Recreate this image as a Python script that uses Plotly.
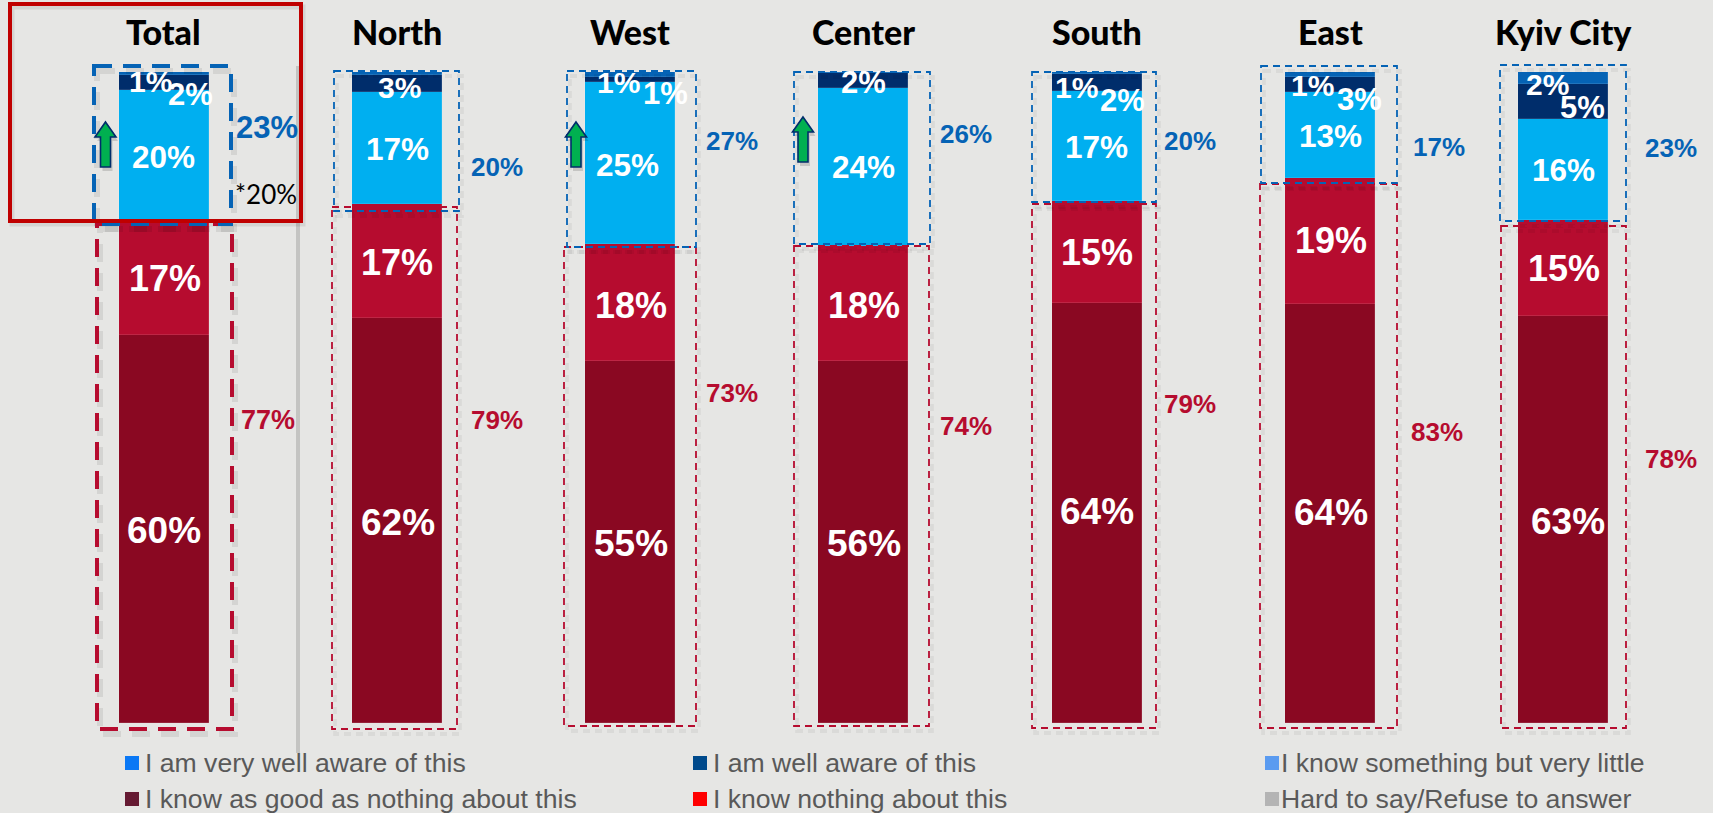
import plotly.graph_objects as go

# ---------- data ----------
regions = ["Total", "North", "West", "Center", "South", "East", "Kyiv City"]
very_well = [0.6, 0.5, 0.8, 0.2, 0.4, 0.8, 1.9]
well = [2.3, 2.6, 0.8, 2.3, 2.6, 2.4, 5.4]
something = [20.4, 17.3, 24.9, 24.3, 16.9, 13.1, 15.5]
almost_nothing = [17.2, 17.4, 18.0, 17.6, 15.7, 19.35, 14.8]
nothing = [59.5, 62.2, 55.5, 55.6, 64.4, 64.35, 62.4]

very_well_lbl = ["1%", "", "1%", "", "1%", "1%", "2%"]
well_lbl = ["2%", "3%", "1%", "2%", "2%", "3%", "5%"]
something_lbl = ["20%", "17%", "25%", "24%", "17%", "13%", "16%"]
almost_nothing_lbl = ["17%", "17%", "18%", "18%", "15%", "19%", "15%"]
nothing_lbl = ["60%", "62%", "55%", "56%", "64%", "64%", "63%"]
aware_total_lbl = ["23%", "20%", "27%", "26%", "20%", "17%", "23%"]
unaware_total_lbl = ["77%", "79%", "73%", "74%", "79%", "83%", "78%"]
previous_lbl = "*20%"
legend_items = ["I am very well aware of this", "I am well aware of this", "I know something but very little",
                "I know as good as nothing about this", "I know nothing about this", "Hard to say/Refuse to answer"]

# ---------- layout constants (pixels of the 1713x813 page) ----------
W, H = 1713, 813
BAR_C0, BAR_STEP, BAR_W = 163.5, 233.3, 90
Y0_PX, PX_PER_PCT = 722.5, 6.51
BG = "#e6e6e4"
BLUE, NAVY, SKY, RED, WINE = "#0563b5", "#002d6b", "#00aff0", "#b60c2f", "#8a0822"
FONT = "Liberation Sans"
TITLE_FONT = "Lato"

very_well_xy = [(150, 82), None, (618, 83), None, (1076, 87), (1312, 85), (1547, 84)]
well_xy = [(190, 95), (399, 87), (665, 93), (863, 83), (1122, 100), (1359, 99), (1582, 108)]
something_xy = [(163, 157), (397, 149), (627, 165), (863, 167), (1096, 147), (1330, 136), (1563, 170)]
almost_xy = [(165, 278), (397, 262), (631, 305), (864, 305), (1097, 252), (1331, 241), (1564, 268)]
nothing_xy = [(164, 530), (398, 522), (631, 543), (864, 543), (1097, 511), (1331, 512), (1568, 521)]
aware_xy = [(267, 128), (497, 167), (732, 141), (966, 134), (1190, 141), (1439, 147), (1671, 148)]
unaware_xy = [(268, 420), (497, 420), (732, 393), (966, 426), (1190, 404), (1437, 432), (1671, 459)]
blue_boxes = [(94, 66, 231, 224), (334, 71, 459, 211), (567, 71, 696, 247), (794, 72, 930, 244),
              (1032, 72, 1156, 202), (1261, 66, 1397, 183), (1500, 65, 1626, 221)]
red_boxes = [(97, 224, 232, 729), (332, 207, 457, 729), (564, 247, 696, 726), (794, 246, 929, 726),
             (1032, 204, 1156, 728), (1260, 184, 1397, 728), (1501, 226, 1626, 728)]
arrows = [(105.5, 122), (576, 122), (803, 117)]
legend_rows = [763, 799]
legend_cols = [125, 693, 1265]
legend_text_gap = [18, 18, 14]
legend_colors = ["#0a78f5", "#004a8c", "#5a9bf0", "#651a32", "#ff0000", "#b4b4b4"]

fig = go.Figure()
for vals, col, name in [(nothing, WINE, "I know nothing"), (almost_nothing, RED, "As good as nothing"),
                        (something, SKY, "Something"), (well, NAVY, "Well"), (very_well, BLUE, "Very well")]:
    fig.add_bar(x=list(range(7)), y=vals, name=name, width=BAR_W / BAR_STEP,
                marker=dict(color=col, line=dict(color="rgba(255,255,255,0.18)", width=0.6)), showlegend=False)


def pxx(x):
    return x / W


def pxy(y):
    return 1 - y / H


shapes = []
ann = []


def text(x, y, s, size, color="white", family=FONT, bold=True, anchor="center", weight=None):
    f = dict(size=size, color=color, family=family)
    if weight:
        f["weight"] = weight
    ann.append(dict(x=pxx(x), y=pxy(y), xref="paper", yref="paper",
                    text=f"<b>{s}</b>" if bold and not weight else s,
                    showarrow=False, xanchor=anchor, yanchor="middle", font=f))


def rect(x0, y0, x1, y1, **kw):
    shapes.append(dict(type="rect", xref="paper", yref="paper", x0=pxx(x0), x1=pxx(x1),
                       y0=pxy(y0), y1=pxy(y1), **kw))


# grey shadow line left by the highlighted frame
rect(296, 66, 300, 753, fillcolor="#c4c4c2", line_width=0, layer="below")
# frame shadow
rect(12, 7, 303, 224, line=dict(color="rgba(0,0,0,0.08)", width=5), fillcolor="rgba(0,0,0,0)", layer="below")

# dashed boxes with soft shadows
for i, (bb, rb) in enumerate(zip(blue_boxes, red_boxes)):
    w, dash, alpha = (4, "18px,11px", 0.08) if i == 0 else (1.8, "7px,5px", 0.05)
    for box in (rb, bb):
        x0, y0, x1, y1 = box
        rect(x0 + 3, y0 + 5, x1 + 3, y1 + 5,
             line=dict(color=f"rgba(0,0,0,{alpha})", width=w + 2, dash=dash), fillcolor="rgba(0,0,0,0)")
    for box, col in ((rb, RED), (bb, BLUE)):
        x0, y0, x1, y1 = box
        rect(x0, y0, x1, y1, line=dict(color=col, width=w, dash=dash), fillcolor="rgba(0,0,0,0)")

# red highlight frame
rect(10, 4, 301, 221, line=dict(color="#c00000", width=4), fillcolor="rgba(0,0,0,0)")


# green arrows
def arrow_path(cx, top, dx=0, dy=0):
    h, head, hw, sw = 45, 15, 10.5, 5
    cx += dx
    top += dy
    yb = top + h
    yh = top + head
    return (f"M {pxx(cx)} {pxy(top)} L {pxx(cx + hw)} {pxy(yh)} L {pxx(cx + sw)} {pxy(yh)} "
            f"L {pxx(cx + sw)} {pxy(yb)} L {pxx(cx - sw)} {pxy(yb)} L {pxx(cx - sw)} {pxy(yh)} "
            f"L {pxx(cx - hw)} {pxy(yh)} Z")


for cx, top in arrows:
    shapes.append(dict(type="path", xref="paper", yref="paper", path=arrow_path(cx, top, 2, 4),
                       fillcolor="rgba(0,0,0,0.14)", line_width=0))
    shapes.append(dict(type="path", xref="paper", yref="paper", path=arrow_path(cx, top),
                       fillcolor="#00b050", line=dict(color="#002d6b", width=1.6)))

# region titles
for i, r in enumerate(regions):
    text(BAR_C0 + BAR_STEP * i, 31, r, 34, color="black", family=TITLE_FONT, weight=900)

# value labels
for i in range(7):
    if very_well_lbl[i]:
        text(*very_well_xy[i], very_well_lbl[i], 30)
    text(*well_xy[i], well_lbl[i], 31 if i != 1 else 30)
    text(*something_xy[i], something_lbl[i], 31.5)
    text(*almost_xy[i], almost_nothing_lbl[i], 36)
    text(*nothing_xy[i], nothing_lbl[i], 37)
    text(*aware_xy[i], aware_total_lbl[i], 31 if i == 0 else 26, color=BLUE)
    text(*unaware_xy[i], unaware_total_lbl[i], 27 if i == 0 else 26, color=RED)
text(266, 194, previous_lbl, 26, color="black", family=TITLE_FONT, bold=False)

# legend
for k, item in enumerate(legend_items):
    x = legend_cols[k % 3]
    y = legend_rows[k // 3]
    rect(x, y - 7, x + 14, y + 7, fillcolor=legend_colors[k], line_width=0)
    text(x + legend_text_gap[k % 3], y, item, 26.6, color="#595959", bold=False, anchor="left")

fig.update_layout(
    width=W, height=H, margin=dict(l=0, r=0, t=0, b=0), barmode="stack", bargap=0,
    paper_bgcolor=BG, plot_bgcolor=BG, shapes=shapes, annotations=ann, showlegend=False,
    xaxis=dict(visible=False, range=[(0 - BAR_C0) / BAR_STEP, (W - BAR_C0) / BAR_STEP]),
    yaxis=dict(visible=False, range=[(Y0_PX - H) / PX_PER_PCT, Y0_PX / PX_PER_PCT]),
)
fig.write_html("out.html", config=dict(displayModeBar=False),
               post_script="document.body.style.margin='0';document.body.style.overflow='hidden';")
